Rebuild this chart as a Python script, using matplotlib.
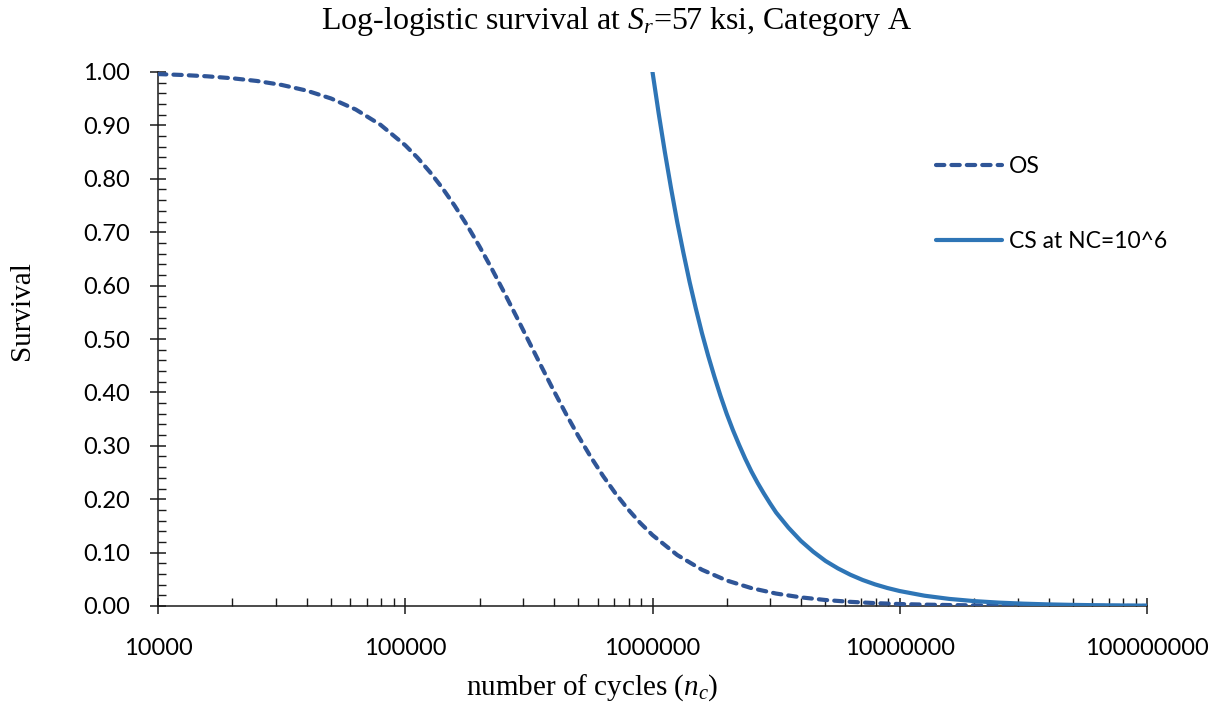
import numpy as np
import matplotlib
matplotlib.use("Agg")
import matplotlib.pyplot as plt
from matplotlib.ticker import FixedLocator, FuncFormatter, MultipleLocator, LogLocator, NullFormatter

# Overall survival (log10 of cycle count, survival probability)
os_log_cycles = [4.0, 4.1, 4.2, 4.3, 4.4, 4.5, 4.6, 4.7, 4.8, 4.9,
                 5.0, 5.05, 5.1, 5.15, 5.2, 5.25, 5.3, 5.35, 5.4, 5.45,
                 5.5, 5.55, 5.6, 5.65, 5.7, 5.75, 5.8, 5.85, 5.9, 5.95,
                 6.0, 6.1, 6.2, 6.3, 6.4, 6.5, 6.6, 6.7, 6.8, 6.9,
                 7.0, 7.1, 7.2, 7.3, 7.4, 7.5, 7.6, 7.7, 7.8, 7.9, 8.0]
os_survival = [0.9961, 0.9944, 0.9919, 0.9883, 0.9832, 0.9758, 0.9653, 0.9504, 0.9297, 0.9011,
               0.8628, 0.8393, 0.8126, 0.7828, 0.7495, 0.7130, 0.6735, 0.6315, 0.5873, 0.5416,
               0.4953, 0.4491, 0.4037, 0.3599, 0.3183, 0.2794, 0.2436, 0.2110, 0.1817, 0.1557,
               0.1328, 0.0955, 0.0679, 0.0478, 0.0335, 0.0233, 0.0162, 0.0112, 0.0078, 0.0054,
               0.0037, 0.0026, 0.0018, 0.0012, 0.00084, 0.00058, 0.00040, 0.00028, 0.00019, 0.00013, 0.00009]

# Conditional survival given survival to NC = 10^6 cycles
cs_log_cycles = [6.0, 6.025, 6.05, 6.075, 6.1, 6.125, 6.15, 6.175, 6.2, 6.225,
                 6.25, 6.275, 6.3, 6.325, 6.35, 6.375, 6.4, 6.425, 6.45, 6.475,
                 6.5, 6.55, 6.6, 6.65, 6.7, 6.75, 6.8, 6.85, 6.9, 6.95,
                 7.0, 7.1, 7.2, 7.3, 7.4, 7.5, 7.6, 7.7, 7.8, 7.9, 8.0]
cs_survival = [1.000, 0.9225, 0.850, 0.7824, 0.719, 0.6614, 0.607, 0.5575, 0.511, 0.4689,
               0.430, 0.3936, 0.360, 0.3297, 0.302, 0.2759, 0.252, 0.2306, 0.211, 0.1925,
               0.175, 0.1466, 0.122, 0.1017, 0.0843, 0.0704, 0.0586, 0.0487, 0.0405, 0.0337,
               0.0280, 0.0193, 0.0133, 0.0092, 0.00635, 0.00438, 0.00302, 0.00208, 0.00144,
               0.00099, 0.00068]

x_ticks = [1e4, 1e5, 1e6, 1e7, 1e8]
y_ticks = [0.0, 0.1, 0.2, 0.3, 0.4, 0.5, 0.6, 0.7, 0.8, 0.9, 1.0]

plt.rcParams["mathtext.fontset"] = "custom"
plt.rcParams["mathtext.rm"] = "Liberation Serif"
plt.rcParams["mathtext.it"] = "Liberation Serif:italic"

SANS = "Lato"
SERIF = "Liberation Serif"

fig = plt.figure(figsize=(12.23, 7.11), dpi=100)
ax = fig.add_axes([158 / 1223, 1 - 606 / 711, (1147 - 158) / 1223, (606 - 72) / 711])

os_n = 10 ** np.array(os_log_cycles)
cs_n = 10 ** np.array(cs_log_cycles)

ax.plot(os_n, os_survival, color="#2F5597", lw=3.0, linestyle=(0, (2.0, 1.7)),
        dash_capstyle="round", label="OS", zorder=3)
ax.plot(cs_n, cs_survival, color="#2E75B6", lw=3.0, solid_capstyle="round",
        solid_joinstyle="round", label="CS at NC=10^6", zorder=4)

ax.set_xscale("log")
ax.set_xlim(1e4, 1e8)
ax.set_ylim(0, 1.0)

ax.xaxis.set_major_locator(FixedLocator(x_ticks))
ax.xaxis.set_major_formatter(FuncFormatter(lambda v, p: f"{int(round(v))}"))
ax.xaxis.set_minor_locator(LogLocator(base=10, subs=np.arange(2, 10)))
ax.xaxis.set_minor_formatter(NullFormatter())

ax.yaxis.set_major_locator(FixedLocator(y_ticks))
ax.yaxis.set_major_formatter(FuncFormatter(lambda v, p: f"{v:.2f}"))
ax.yaxis.set_minor_locator(MultipleLocator(0.02))

for s in ("top", "right"):
    ax.spines[s].set_visible(False)
for s in ("left", "bottom"):
    ax.spines[s].set_linewidth(1.1)
    ax.spines[s].set_color("#1a1a1a")

ax.tick_params(which="major", direction="inout", length=12, width=1.1, color="#1a1a1a",
               labelsize=17)
ax.tick_params(which="minor", direction="in", length=5.5, width=1.0, color="#1a1a1a")
ax.tick_params(axis="y", which="major", pad=14)
ax.tick_params(axis="x", which="major", pad=17)
for lab in ax.get_xticklabels() + ax.get_yticklabels():
    lab.set_fontfamily(SANS)

fig.text(617 / 1223, 1 - 22 / 711, "Log-logistic survival at $S_r$=57 ksi, Category A",
         fontfamily=SERIF, fontsize=23, ha="center", va="center")
ax.set_xlabel("number of cycles ($n_c$)", fontfamily=SERIF, fontsize=21)
ax.set_ylabel("Survival", fontfamily=SERIF, fontsize=21)
ax.xaxis.set_label_coords((592 - 158) / 989, -(688 - 606) / 534)
ax.yaxis.set_label_coords(-(158 - 22) / 989, (606 - 311) / 534)
ax.xaxis.label.set_verticalalignment("center")
ax.yaxis.label.set_verticalalignment("center")

leg = ax.legend(loc="upper left", bbox_to_anchor=(936 / 1223, 1 - 156 / 711),
                bbox_transform=fig.transFigure, frameon=False, handlelength=2.9,
                handletextpad=0.3, labelspacing=2.35, borderpad=0, borderaxespad=0,
                prop={"family": SANS, "size": 16.5})

fig.savefig("out.png", dpi=100, facecolor="white")
